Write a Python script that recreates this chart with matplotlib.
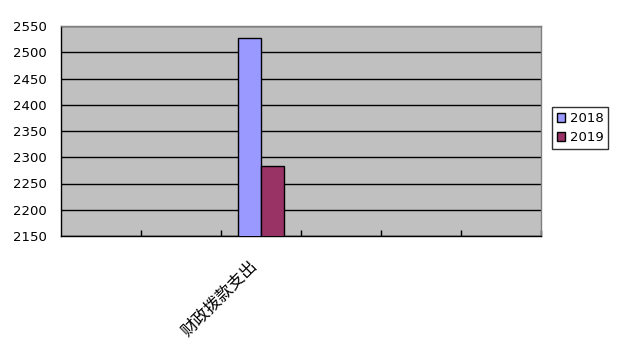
import numpy as np
import matplotlib.pyplot as plt
import matplotlib.transforms as mtransforms

plt.rcParams['font.family'] = ['Noto Sans CJK SC', 'DejaVu Sans']

categories = ['', '', '财政拨款支出', '', '', '']
series_names = ['2018', '2019']
values_2018 = [np.nan, np.nan, 2528, np.nan, np.nan, np.nan]
values_2019 = [np.nan, np.nan, 2283, np.nan, np.nan, np.nan]
yticks = [2150, 2200, 2250, 2300, 2350, 2400, 2450, 2500, 2550]

COLORS = ['#9999FF', '#993366']

fig = plt.figure(figsize=(6.18, 3.47), dpi=100)
ax = fig.add_axes([61/618, 1 - 236/347, 480/618, 210/347])
ax.set_facecolor('#C0C0C0')

x = np.arange(len(categories))
w = 0.29
ax.bar(x - w/2, values_2018, w, color=COLORS[0], edgecolor='black', linewidth=1,
       label=series_names[0], zorder=3)
ax.bar(x + w/2, values_2019, w, color=COLORS[1], edgecolor='black', linewidth=1,
       label=series_names[1], zorder=3)

ax.set_ylim(2150, 2550)
ax.set_xlim(-0.5, len(categories) - 0.5)
ax.set_yticks(yticks)
ax.set_yticklabels([str(t) for t in yticks], fontsize=9.5, family='DejaVu Sans')
ax.tick_params(axis='y', length=0, pad=10)
ax.yaxis.grid(True, color='black', linewidth=1)
ax.set_axisbelow(True)

# category labels at centres, tick marks at boundaries
ax.set_xticks(x)
ax.set_xticklabels(categories, rotation=45, ha='right', va='center',
                   rotation_mode='anchor', fontsize=12)
ax.tick_params(axis='x', length=0, pad=20)
shift = mtransforms.ScaledTranslation(-6/100, 0, fig.dpi_scale_trans)
for lbl in ax.get_xticklabels():
    lbl.set_transform(lbl.get_transform() + shift)
ax.set_xticks(np.arange(len(categories)) + 0.5, minor=True)
ax.tick_params(axis='x', which='minor', direction='in', length=4, color='black', width=1)

for s in ['left', 'bottom']:
    ax.spines[s].set_color('black')
    ax.spines[s].set_linewidth(1)
for s in ['top', 'right']:
    ax.spines[s].set_color('#808080')
    ax.spines[s].set_linewidth(1)

leg = ax.legend(loc='center left', bbox_to_anchor=(552/618, 1 - 128/347),
                bbox_transform=fig.transFigure, frameon=True, fancybox=False,
                fontsize=9.5, handlelength=0.6, handleheight=0.6, handletextpad=0.4,
                borderpad=0.35, labelspacing=0.45, borderaxespad=0)
leg.get_frame().set_edgecolor('black')
leg.get_frame().set_linewidth(1)
for t in leg.get_texts():
    t.set_family('DejaVu Sans')

fig.savefig('out.png', dpi=100)
